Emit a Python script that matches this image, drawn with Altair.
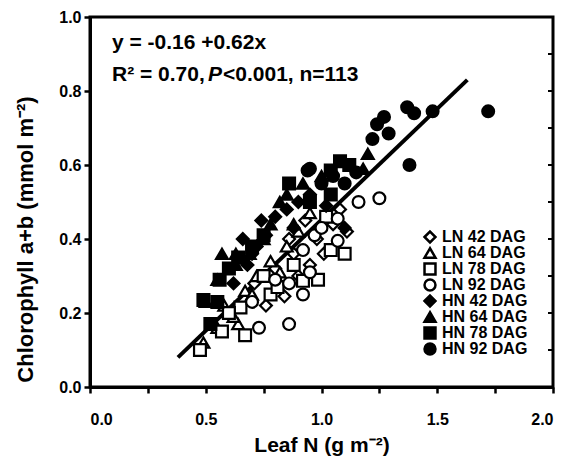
import altair as alt
import pandas as pd

# ---- data ----
groups = ["LN 42 DAG", "LN 64 DAG", "LN 78 DAG", "LN 92 DAG",
          "HN 42 DAG", "HN 64 DAG", "HN 78 DAG", "HN 92 DAG"]
shapes = ["diamond", "triangle-up", "square", "circle",
          "diamond", "triangle-up", "square", "circle"]
fills = ["white", "white", "white", "white", "black", "black", "black", "black"]
strokes = ["black"] * 8

ln42_x = [0.71, 0.84, 0.80, 0.88, 0.95, 1.01, 1.11, 0.90, 0.76, 0.98, 1.05, 0.86, 0.93, 1.08]
ln42_y = [0.28, 0.245, 0.32, 0.36, 0.33, 0.36, 0.42, 0.30, 0.22, 0.40, 0.44, 0.40, 0.45, 0.48]
ln64_x = [0.49, 0.64, 0.67, 0.58, 0.72, 0.78, 0.85, 0.90, 0.62, 0.82, 0.95, 0.70, 0.55, 0.88]
ln64_y = [0.12, 0.17, 0.26, 0.22, 0.30, 0.34, 0.38, 0.42, 0.19, 0.31, 0.47, 0.25, 0.16, 0.44]
ln78_x = [0.475, 0.57, 0.67, 0.65, 0.78, 0.81, 0.92, 0.985, 1.10, 1.04, 0.75, 0.88, 0.60, 1.02]
ln78_y = [0.10, 0.15, 0.14, 0.215, 0.25, 0.27, 0.287, 0.29, 0.36, 0.37, 0.30, 0.33, 0.20, 0.46]
ln92_x = [0.73, 0.86, 0.70, 0.86, 0.92, 0.92, 0.97, 1.07, 1.07, 1.16, 1.25, 1.00, 0.80, 0.95]
ln92_y = [0.16, 0.17, 0.23, 0.28, 0.25, 0.37, 0.41, 0.395, 0.455, 0.50, 0.51, 0.43, 0.29, 0.31]
hn42_x = [0.62, 0.68, 0.72, 0.76, 0.80, 0.85, 0.90, 0.95, 1.02, 0.74, 0.66, 0.70, 0.88, 1.10]
hn42_y = [0.28, 0.33, 0.38, 0.41, 0.46, 0.48, 0.50, 0.52, 0.49, 0.45, 0.40, 0.36, 0.43, 0.43]
hn64_x = [0.50, 0.55, 0.57, 0.63, 0.69, 0.75, 0.85, 0.82, 0.92, 1.00, 1.20, 1.18, 0.63, 0.78]
hn64_y = [0.23, 0.29, 0.36, 0.36, 0.36, 0.40, 0.52, 0.50, 0.55, 0.57, 0.63, 0.59, 0.33, 0.44]
hn78_x = [0.49, 0.56, 0.55, 0.60, 0.64, 0.70, 0.75, 0.52, 0.86, 1.04, 1.08, 1.12, 1.04, 0.95]
hn78_y = [0.235, 0.29, 0.23, 0.32, 0.35, 0.38, 0.41, 0.17, 0.55, 0.585, 0.61, 0.60, 0.52, 0.50]
hn92_x = [0.94, 0.95, 1.00, 1.05, 1.10, 1.15, 1.22, 1.24, 1.27, 1.29, 1.37, 1.40, 1.48, 1.38, 1.72]
hn92_y = [0.585, 0.59, 0.55, 0.57, 0.55, 0.58, 0.67, 0.71, 0.73, 0.685, 0.756, 0.74, 0.745, 0.60, 0.745]

line_x = [0.38, 1.63]
line_y = [0.08, 0.83]

x_ticks = [0.0, 0.25, 0.5, 0.75, 1.0, 1.25, 1.5, 1.75, 2.0]
y_ticks = [0.0, 0.1, 0.2, 0.3, 0.4, 0.5, 0.6, 0.7, 0.8, 0.9, 1.0]
right_ticks = [0.1, 0.2, 0.3, 0.4, 0.5, 0.6, 0.7, 0.8, 0.9]

series = [(ln42_x, ln42_y), (ln64_x, ln64_y), (ln78_x, ln78_y), (ln92_x, ln92_y),
          (hn42_x, hn42_y), (hn64_x, hn64_y), (hn78_x, hn78_y), (hn92_x, hn92_y)]
rows = []
for g, (xs, ys) in zip(groups, series):
    for a, b in zip(xs, ys):
        rows.append({"n": a, "chl": b, "group": g})
df = pd.DataFrame(rows)

FONT = "Liberation Sans"

xscale = alt.Scale(domain=[0, 2], nice=False, zero=False)
yscale = alt.Scale(domain=[0, 1], nice=False, zero=False)

legend = alt.Legend(
    orient="none", legendX=332, legendY=212, title=None,
    labelFont=FONT, labelFontSize=16, labelFontWeight="bold", labelColor="black",
    symbolSize=120, symbolStrokeWidth=2.5,
    rowPadding=0, clipHeight=16, labelOffset=4, padding=0,
)

points = alt.Chart(df).mark_point(filled=True, strokeWidth=2.2,
                                   size=140, opacity=1).encode(
    x=alt.X("n:Q", scale=xscale,
            axis=alt.Axis(values=x_ticks, title="Leaf N (g m\u207b\u00b2)",
                          labelExpr="(round(datum.value*4) % 2 == 0) ? format(datum.value, '.1f') : ''",
                          grid=False, domainColor="black", domainWidth=3,
                          tickColor="black", tickWidth=2.5, tickSize=6,
                          labelFont=FONT, labelFontSize=16, labelFontWeight="bold",
                          labelColor="black", labelPadding=18,
                          titleFont=FONT, titleFontSize=21, titleFontWeight="bold",
                          titleColor="black", titleY=58, titleBaseline="middle")),
    y=alt.Y("chl:Q", scale=yscale,
            axis=alt.Axis(values=y_ticks, title="Chlorophyll a+b (mmol m\u207b\u00b2)",
                          labelExpr="(round(datum.value*10) % 2 == 0) ? format(datum.value, '.1f') : ''",
                          grid=False, domainColor="black", domainWidth=3,
                          tickColor="black", tickWidth=2.5, tickSize=6,
                          labelFont=FONT, labelFontSize=16, labelFontWeight="bold",
                          labelColor="black", labelPadding=3,
                          titleFont=FONT, titleFontSize=22, titleFontWeight="bold",
                          titleColor="black", titleX=-65, titleY=222,
                          titleBaseline="middle", titleAngle=270, titleAlign="center")),
    shape=alt.Shape("group:N", scale=alt.Scale(domain=groups, range=shapes), legend=legend),
    fill=alt.Fill("group:N", scale=alt.Scale(domain=groups, range=fills), legend=legend),
    stroke=alt.Stroke("group:N", scale=alt.Scale(domain=groups, range=strokes), legend=legend),
)

line_df = pd.DataFrame({"n": line_x, "chl": line_y})
fit = alt.Chart(line_df).mark_line(color="black", strokeWidth=4).encode(
    x=alt.X("n:Q", scale=xscale), y=alt.Y("chl:Q", scale=yscale))

rt_df = pd.DataFrame({"chl": right_ticks})
rticks = alt.Chart(rt_df).mark_rule(color="black", strokeWidth=2).encode(
    y=alt.Y("chl:Q", scale=yscale), x=alt.value(463), x2=alt.value(458))

ann_x = [0.095, 0.095, 0.095, 0.095]
ann_y = [0.93, 0.843, 0.843, 0.843]
ann_t = ["y = -0.16 +0.62x", "R\u00b2 = 0.70,", "P", "<0.001, n=113"]
ann_dx = [0, 0, 96, 111]
ann_style = ["normal", "normal", "italic", "normal"]
texts = []
for tx, ty, tt, dx, st in zip(ann_x, ann_y, ann_t, ann_dx, ann_style):
    tdf = pd.DataFrame({"n": [tx], "chl": [ty], "t": [tt]})
    texts.append(alt.Chart(tdf).mark_text(
        align="left", baseline="middle", dx=dx, font=FONT, fontSize=21,
        fontWeight="bold", fontStyle=st, color="black").encode(
        x=alt.X("n:Q", scale=xscale), y=alt.Y("chl:Q", scale=yscale), text="t:N"))

chart = alt.layer(fit, points, rticks, *texts).properties(
    width=463, height=370,
    autosize=alt.AutoSizeParams(type="none"),
    padding={"left": 82, "top": 9, "right": 10, "bottom": 72},
    background="white",
).configure_view(stroke="black", strokeWidth=3)

chart.save("out.html", embed_options={"renderer": "svg", "actions": False})
